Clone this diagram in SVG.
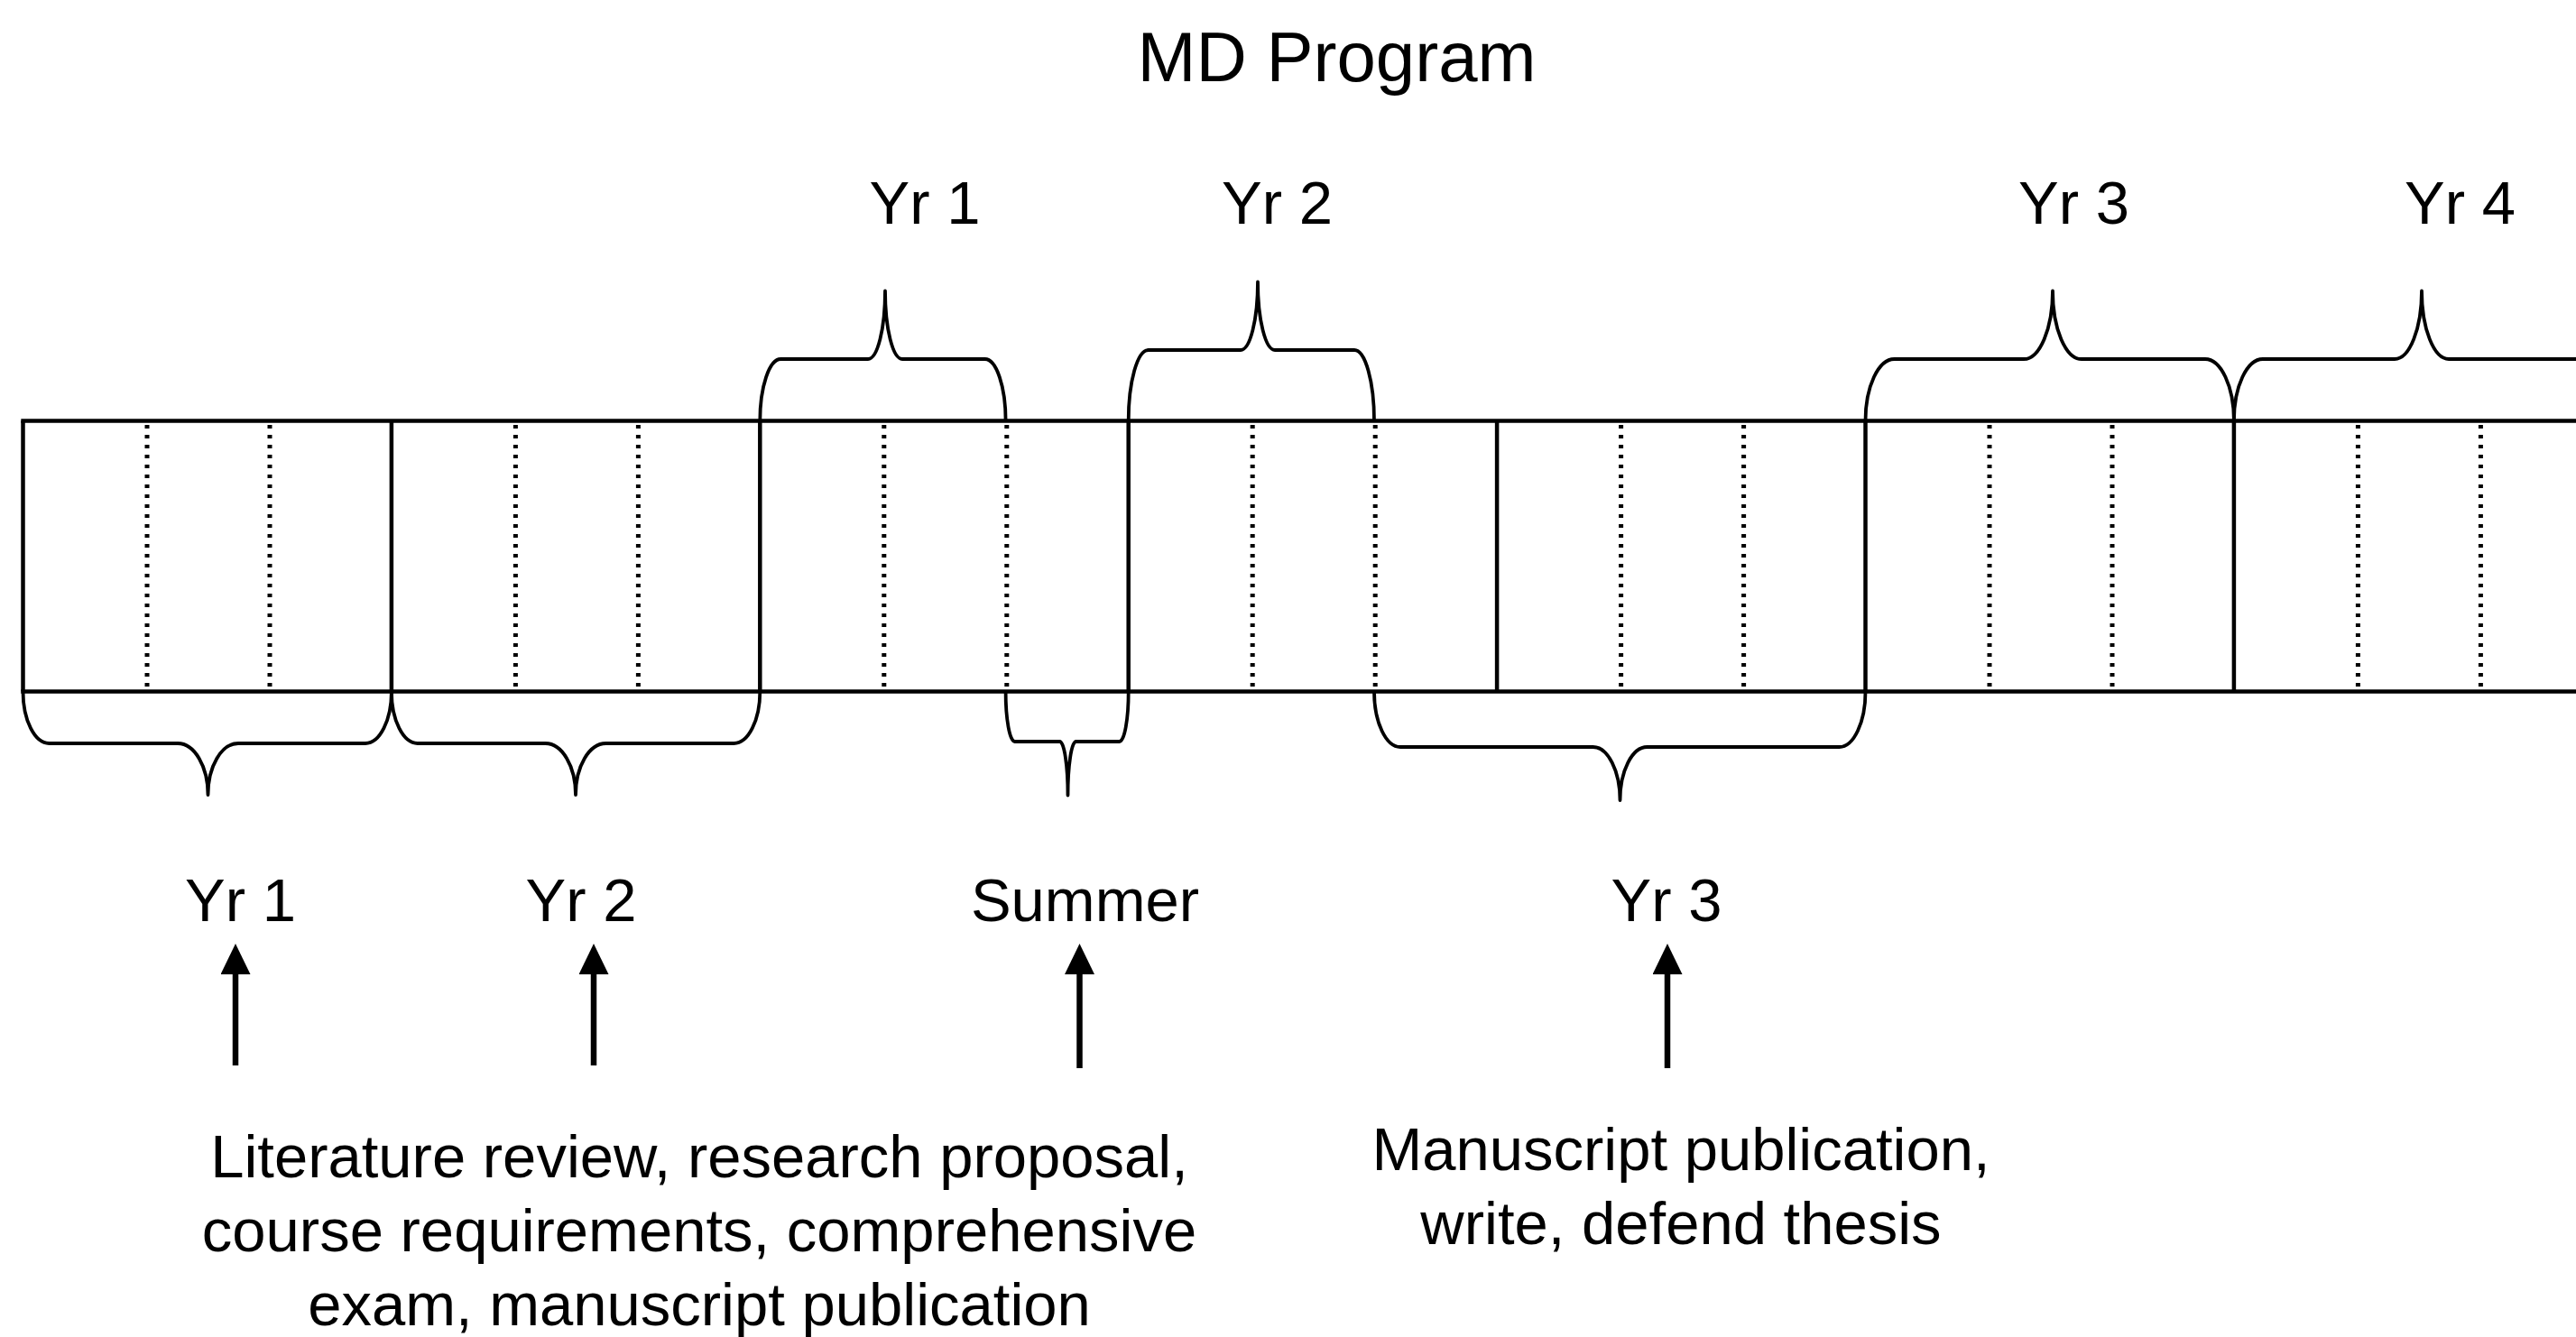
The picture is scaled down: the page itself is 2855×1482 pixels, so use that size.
<svg xmlns="http://www.w3.org/2000/svg" width="2855" height="1482" viewBox="0 0 2855 1482">
<defs>
<style>
.t{font-family:"Liberation Sans",Arial,sans-serif;font-size:67px;fill:#000;text-anchor:middle}
.title{font-size:78px}
.solid{stroke:#000;stroke-width:4.5;fill:none}
.dot{stroke:#000;stroke-width:5;stroke-dasharray:4 7;fill:none}
.brace{stroke:#000;stroke-width:3.8;fill:none;stroke-linejoin:round}
.arrow{stroke:#000;stroke-width:6.5;fill:none}
</style>
<marker id="ah" viewBox="0 0 34 33" refX="2" refY="16.5" markerWidth="34" markerHeight="33" markerUnits="userSpaceOnUse" orient="auto">
<path d="M0,0 L34,16.5 L0,33 z" fill="#000"/>
</marker>
</defs>
<rect width="2855" height="1482" fill="#fff"/>

<g id="title"><text class="t title" x="1481.5" y="90">MD Program</text></g>

<g id="timeline">
<line class="solid" x1="23.3" y1="466.5" x2="2855" y2="466.5"/>
<line class="solid" x1="23.3" y1="766.5" x2="2855" y2="766.5"/>
<line class="solid" x1="25.5" y1="466.5" x2="25.5" y2="766.5"/>
<line class="solid" x1="433.9" y1="466.5" x2="433.9" y2="766.5"/>
<line class="solid" x1="842.3" y1="466.5" x2="842.3" y2="766.5"/>
<line class="solid" x1="1250.7" y1="466.5" x2="1250.7" y2="766.5"/>
<line class="solid" x1="1659.1" y1="466.5" x2="1659.1" y2="766.5"/>
<line class="solid" x1="2067.5" y1="466.5" x2="2067.5" y2="766.5"/>
<line class="solid" x1="2475.9" y1="466.5" x2="2475.9" y2="766.5"/>
<path class="dot" d="M163,471V762M299,471V762M571.4,471V762M707.4,471V762M979.8,471V762M1115.8,471V762M1388.2,471V762M1524.2,471V762M1796.6,471V762M1932.6,471V762M2205,471V762M2341,471V762M2613.4,471V762M2749.4,471V762"/>
</g>

<g id="brace-top-yr1"><path class="brace" d="M842.3,466.5 A23,68.5 0 0 1 865.3,398 L962,398 A19,75.5 0 0 0 981,322.5 A19,75.5 0 0 0 1000,398 L1091.6,398 A23,68.5 0 0 1 1114.6,466.5"/></g>
<g id="brace-top-yr2"><path class="brace" d="M1250.7,466.5 A22,78.5 0 0 1 1272.7,388 L1375,388 A19,75.5 0 0 0 1394,312.5 A19,75.5 0 0 0 1413,388 L1501,388 A22,78.5 0 0 1 1523,466.5"/></g>
<g id="brace-top-yr3"><path class="brace" d="M2067.5,466.5 A32,68.5 0 0 1 2099.5,398 L2243,398 A32,75.5 0 0 0 2275,322.5 A32,75.5 0 0 0 2307,398 L2443.9,398 A32,68.5 0 0 1 2475.9,466.5"/></g>
<g id="brace-top-yr4"><path class="brace" d="M2475.9,466.5 A32,68.5 0 0 1 2507.9,398 L2654,398 A30,75.5 0 0 0 2684,322.5 A30,75.5 0 0 0 2714,398 L2870,398"/></g>

<g id="brace-bot-yr1"><path class="brace" d="M25.5,766.5 A29,57.5 0 0 0 54.5,824 L197,824 A33.5,57 0 0 1 230.5,881 A33.5,57 0 0 1 264,824 L404.9,824 A29,57.5 0 0 0 433.9,766.5"/></g>
<g id="brace-bot-yr2"><path class="brace" d="M433.9,766.5 A29,57.5 0 0 0 462.9,824 L604.5,824 A33.5,57 0 0 1 638,881 A33.5,57 0 0 1 671.5,824 L813.3,824 A29,57.5 0 0 0 842.3,766.5"/></g>
<g id="brace-bot-summer"><path class="brace" d="M1114.6,766.5 A10,55.5 0 0 0 1124.6,822 L1174.5,822 A9,59.5 0 0 1 1183.5,881.5 A9,59.5 0 0 1 1192.5,822 L1240.7,822 A10,55.5 0 0 0 1250.7,766.5"/></g>
<g id="brace-bot-yr3"><path class="brace" d="M1523,766.5 A29,61.5 0 0 0 1552,828 L1765.5,828 A30,59 0 0 1 1795.5,887 A30,59 0 0 1 1825.5,828 L2038.5,828 A29,61.5 0 0 0 2067.5,766.5"/></g>

<g id="label-top-yr1"><text class="t" x="1025" y="247.5">Yr 1</text></g>
<g id="label-top-yr2"><text class="t" x="1415.5" y="247.5">Yr 2</text></g>
<g id="label-top-yr3"><text class="t" x="2298.5" y="247.5">Yr 3</text></g>
<g id="label-top-yr4"><text class="t" x="2726.5" y="247.5">Yr 4</text></g>

<g id="label-bot-yr1"><text class="t" x="266.5" y="1020.5">Yr 1</text></g>
<g id="label-bot-yr2"><text class="t" x="644" y="1021">Yr 2</text></g>
<g id="label-bot-summer"><text class="t" x="1202.5" y="1020.5">Summer</text></g>
<g id="label-bot-yr3"><text class="t" x="1847" y="1020.5">Yr 3</text></g>

<g id="note-left"><text class="t" x="775" y="1304.5">Literature review, research proposal,</text><text class="t" x="775" y="1386.5">course requirements, comprehensive</text><text class="t" x="775" y="1469">exam, manuscript publication</text></g>
<g id="note-right"><text class="t" x="1863" y="1297">Manuscript publication,</text><text class="t" x="1863" y="1379">write, defend thesis</text></g>

<g id="connectors">
<line class="arrow" x1="261" y1="1181" x2="261" y2="1078" marker-end="url(#ah)"/>
<line class="arrow" x1="658" y1="1181" x2="658" y2="1078" marker-end="url(#ah)"/>
<line class="arrow" x1="1196.5" y1="1184" x2="1196.5" y2="1078" marker-end="url(#ah)"/>
<line class="arrow" x1="1848" y1="1184" x2="1848" y2="1078" marker-end="url(#ah)"/>
</g>
</svg>
